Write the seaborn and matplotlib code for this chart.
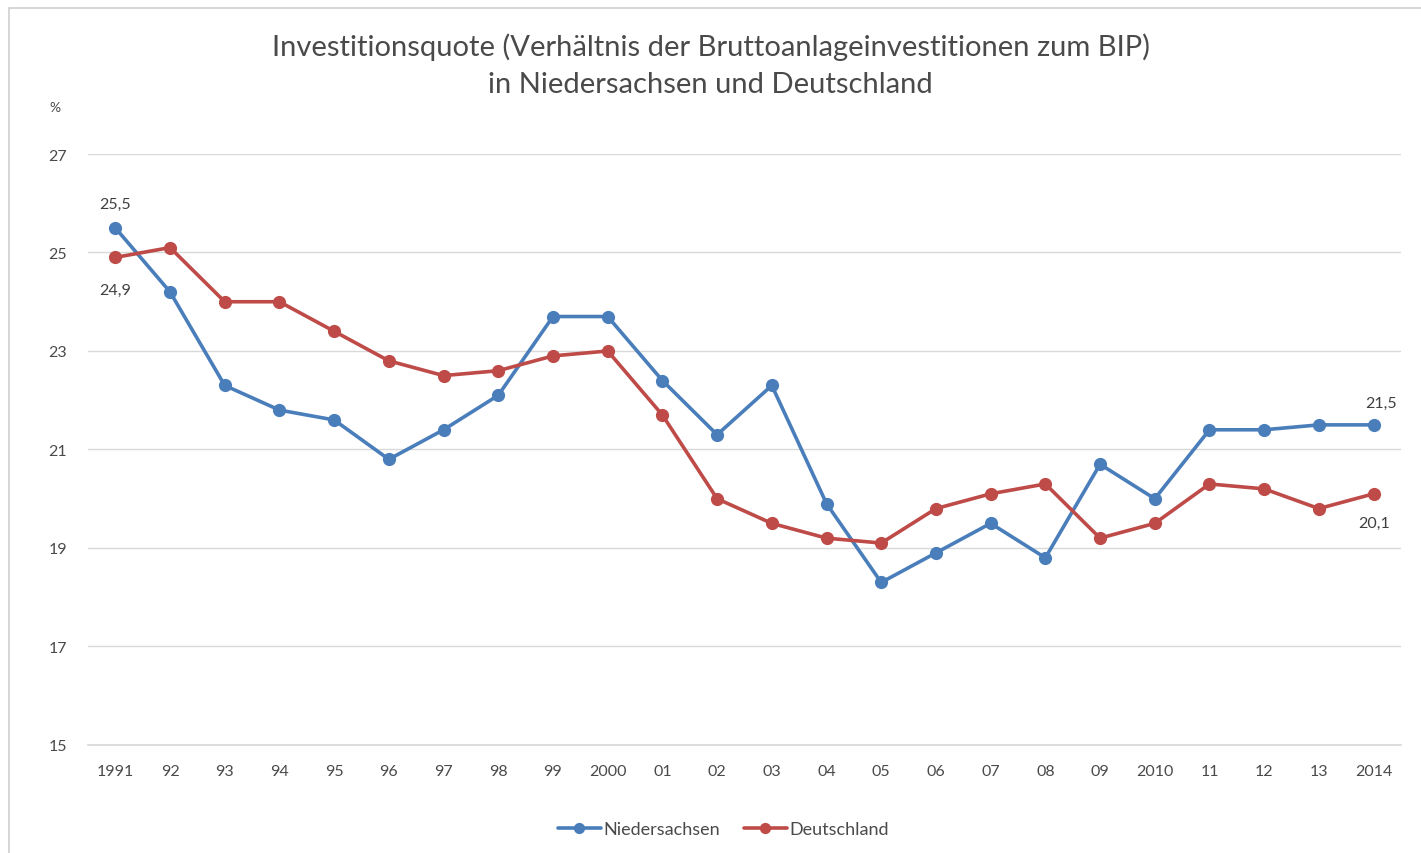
import numpy as np
import pandas as pd
import matplotlib
matplotlib.use("Agg")
import matplotlib.pyplot as plt
import seaborn as sns
from matplotlib.patches import Rectangle

YEAR_LABELS = ["1991", "92", "93", "94", "95", "96", "97", "98", "99", "2000",
               "01", "02", "03", "04", "05", "06", "07", "08", "09", "2010",
               "11", "12", "13", "2014"]
NIEDERSACHSEN = [25.5, 24.2, 22.3, 21.8, 21.6, 20.8, 21.4, 22.1, 23.7, 23.7,
                 22.4, 21.3, 22.3, 19.9, 18.3, 18.9, 19.5, 18.8, 20.7, 20.0,
                 21.4, 21.4, 21.5, 21.5]
DEUTSCHLAND = [24.9, 25.1, 24.0, 24.0, 23.4, 22.8, 22.5, 22.6, 22.9, 23.0,
               21.7, 20.0, 19.5, 19.2, 19.1, 19.8, 20.1, 20.3, 19.2, 19.5,
               20.3, 20.2, 19.8, 20.1]
SERIES = ["Niedersachsen", "Deutschland"]
COLORS = {"Niedersachsen": "#4a7ebb", "Deutschland": "#be4b48"}
TEXT = "#4a4a4a"

sns.set_theme(style="white")
plt.rcParams["font.family"] = ["Lato", "DejaVu Sans"]

idx = np.arange(len(YEAR_LABELS))
df = pd.DataFrame({
    "pos": np.concatenate([idx, idx]),
    "value": NIEDERSACHSEN + DEUTSCHLAND,
    "series": [SERIES[0]] * len(idx) + [SERIES[1]] * len(idx),
})

fig = plt.figure(figsize=(14.21, 8.54), dpi=100)
fig.patches.append(Rectangle((0.006, -0.01), 1.0, 1.0, transform=fig.transFigure,
                             fill=False, edgecolor="#d0d0d0", linewidth=1.2))
ax = fig.add_axes([0.0619, 0.1265, 0.924, 0.692])

sns.lineplot(data=df, x="pos", y="value", hue="series", palette=COLORS,
             marker="o", markersize=9.5, markeredgewidth=0, linewidth=2.6,
             ax=ax, legend=True)

ax.set_xlim(-0.5, len(idx) - 0.5)
ax.set_ylim(15, 27)
ax.set_yticks(range(15, 28, 2))
ax.set_yticklabels([str(v) for v in range(15, 28, 2)], color=TEXT, fontsize=11.5)
ax.set_xticks(idx)
ax.set_xticklabels(YEAR_LABELS, color=TEXT, fontsize=11.5)
ax.set_xticks(np.arange(-0.5, len(idx), 1), minor=True)
ax.tick_params(axis="x", which="major", length=0, pad=14)
ax.tick_params(axis="x", which="minor", length=5, color="#d9d9d9", width=1)
ax.tick_params(axis="y", length=0, pad=15)
ax.yaxis.grid(True, color="#d9d9d9", linewidth=1)
ax.set_axisbelow(True)
for s in ["top", "right", "left"]:
    ax.spines[s].set_visible(False)
ax.spines["bottom"].set_color("#d9d9d9")
ax.set_xlabel("")
ax.set_ylabel("")

def fmt(v):
    return f"{v:.1f}".replace(".", ",")

lab = dict(textcoords="offset points", ha="center", color="#404040", fontsize=11.5)
ax.annotate(fmt(NIEDERSACHSEN[0]), (0, NIEDERSACHSEN[0]), xytext=(0, 12), va="bottom", **lab)
ax.annotate(fmt(DEUTSCHLAND[0]), (0, DEUTSCHLAND[0]), xytext=(0, -18), va="top", **lab)
ax.annotate(fmt(NIEDERSACHSEN[-1]), (idx[-1], NIEDERSACHSEN[-1]), xytext=(5, 11), va="bottom", **lab)
ax.annotate(fmt(DEUTSCHLAND[-1]), (idx[-1], DEUTSCHLAND[-1]), xytext=(0, -16), va="top", **lab)

fig.text(0.035, 0.873, "%", color=TEXT, fontsize=10, ha="left", va="center")
fig.text(0.5, 0.923, "Investitionsquote (Verhältnis der Bruttoanlageinvestitionen zum BIP)\n"
         "in Niedersachsen und Deutschland", ha="center", va="center",
         color=TEXT, fontsize=21, linespacing=1.5)

handles, labels = ax.get_legend_handles_labels()
ax.legend(handles, labels, loc="center", bbox_to_anchor=(0.484, -0.143), ncol=2,
          frameon=False, fontsize=13, labelcolor=TEXT, handlelength=2.4,
          columnspacing=1.3, handletextpad=0.15, markerscale=0.85)

fig.savefig("out.png", dpi=100)
